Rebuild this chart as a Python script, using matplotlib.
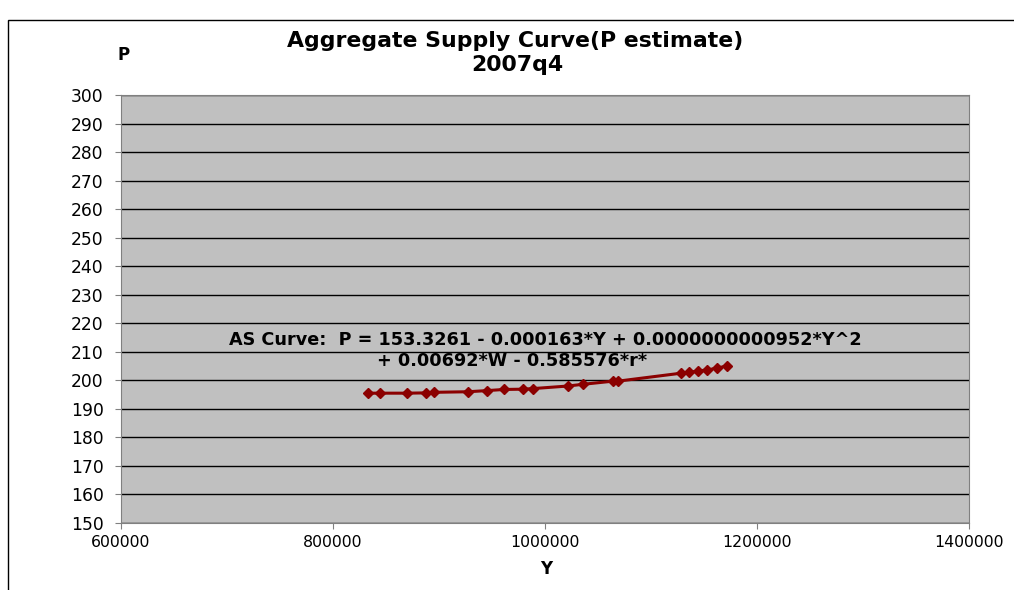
import matplotlib
matplotlib.use("Agg")
import matplotlib.pyplot as plt
from matplotlib.patches import Rectangle

plt.rcParams['font.family'] = ['DejaVu Sans']

# Y (output) and P estimate
y_out = [832700, 844300, 869800, 887700, 895300, 927400, 945300, 961300, 979000, 988400,
         1021400, 1035600, 1063900, 1068600, 1128300, 1136200, 1144600, 1152800, 1162300, 1171400]
p_est = [195.5, 195.5, 195.5, 195.6, 195.8, 196.0, 196.4, 196.8, 196.9, 197.1,
         198.0, 198.6, 199.7, 199.7, 202.5, 202.8, 203.3, 203.6, 204.3, 205.0]

x_ticks = [600000, 800000, 1000000, 1200000, 1400000]
y_ticks = list(range(150, 301, 10))

fig = plt.figure(figsize=(10.14, 5.9), dpi=100)
ax = fig.add_axes([121/1014, 1-523/590, 848/1014, 428/590])
ax.set_facecolor("#C0C0C0")

# outer chart frame (cropped on right and bottom)
fig.patches.append(Rectangle((8/1014, -0.1), 1.2, 1-20/590+0.1, transform=fig.transFigure,
                             fill=False, edgecolor="black", lw=1))

ax.plot(y_out, p_est, color="#8B0000", lw=2.2, marker="D", markersize=5.5, zorder=3)

ax.set_xlim(600000, 1400000)
ax.set_ylim(150, 300)
ax.set_xticks(x_ticks)
ax.set_yticks(y_ticks)
ax.set_xticklabels([str(v) for v in x_ticks], fontsize=11.3)
ax.set_yticklabels([str(v) for v in y_ticks], fontsize=12.3)
ax.yaxis.grid(True, color="black", lw=1)
ax.set_axisbelow(True)
for s in ax.spines.values():
    s.set_color("#808080")
ax.tick_params(axis="both", direction="out", length=4.5, color="#808080")
ax.tick_params(axis="x", pad=4)
ax.tick_params(axis="y", pad=8)

fig.text(515/1014, 1-41/590, "Aggregate Supply Curve(P estimate)", ha="center", va="center",
         fontsize=15.8, fontweight="bold")
fig.text(517/1014, 1-65/590, "2007q4", ha="center", va="center",
         fontsize=15.8, fontweight="bold")
fig.text(124/1014, 1-55/590, "P", ha="center", va="center", fontsize=12, fontweight="bold")
fig.text(546/1014, 1-569/590, "Y", ha="center", va="center", fontsize=12, fontweight="bold")

ax.text(545/1014, 1-340/590, "AS Curve:  P = 153.3261 - 0.000163*Y + 0.0000000000952*Y^2",
        transform=fig.transFigure, ha="center", va="center", fontsize=12.7, fontweight="bold")
ax.text(512/1014, 1-361/590, "+ 0.00692*W - 0.585576*r*",
        transform=fig.transFigure, ha="center", va="center", fontsize=12.7, fontweight="bold")

fig.savefig("out.png", dpi=100)
